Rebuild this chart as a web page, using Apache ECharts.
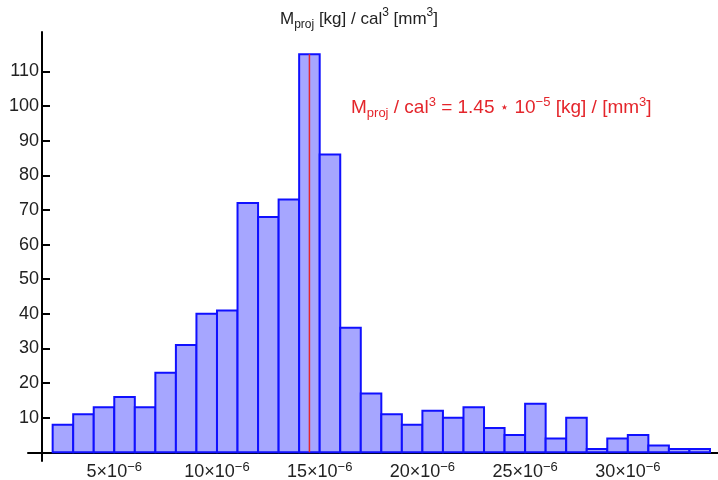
<!DOCTYPE html>
<html><head><meta charset="utf-8">
<script src="https://cdn.jsdelivr.net/npm/echarts@6/dist/echarts.min.js"></script>
<style>html,body{margin:0;padding:0;background:#fff}#c{width:718px;height:480px}</style>
</head><body><div id="c"></div>
<script>
// x values in units of 1e-6 (kg / mm^3)
const binStart = 2;
const binWidth = 1;
const counts = [8,11,13,16,13,23,31,40,41,72,68,73,115,86,36,17,11,8,12,10,13,7,5,14,4,10,1,4,5,2,1,1];
const xTickValues = [5,10,15,20,25,30];
const yTickValues = [10,20,30,40,50,60,70,80,90,100,110];
const meanValue = 14.5;   // 1.45 * 10^-5
const meanLineTop = 115;

const FONT = 'Liberation Sans, Arial, sans-serif';
const RED = '#e4252b';

const bins = counts.map((c, i) => [binStart + i * binWidth, binStart + (i + 1) * binWidth, c]);

const txtRich = (color, size, small) => ({
  m:   {fontFamily: FONT, fontSize: size, fontWeight: 'normal', color: color, lineHeight: 24},
  sub: {fontFamily: FONT, fontSize: small, fontWeight: 'normal', color: color, lineHeight: 14, verticalAlign: 'bottom'},
  sup: {fontFamily: FONT, fontSize: small, fontWeight: 'normal', color: color, lineHeight: 16, verticalAlign: 'top'},
  star: {fontFamily: 'DejaVu Sans', fontSize: 15, fontWeight: 'normal', color: color, lineHeight: 24}
});

const meanText = (meanValue / 10).toFixed(2);

const chart = echarts.init(document.getElementById('c'), null, {renderer: 'canvas'});
chart.setOption({
  animation: false,
  backgroundColor: '#fff',
  title: [{
    left: 'center', top: 2,
    text: '{m|M}{sub|proj}{m| [kg] / cal}{sup|3}{m| [mm}{sup|3}{m|]}',
    textStyle: {fontWeight: 'normal', rich: txtRich('#222', 17, 12)}
  }, {
    left: 346, top: 91,
    text: '{m|M}{sub|proj}{m| / cal}{sup|3}{m| = ' + meanText + ' }{star|\u22C6}{m| 10}{sup|\u22125}{m| [kg] / [mm}{sup|3}{m|]}',
    textStyle: {fontWeight: 'normal', rich: txtRich(RED, 19, 13)}
  }],
  grid: {left: 28, right: 0, top: 32, bottom: 19, containLabel: false, outerBoundsMode: 'none'},
  xAxis: {
    type: 'value', min: 0.8, max: 34.39,
    axisLine: {onZero: true, lineStyle: {color: '#000', width: 2}},
    axisTick: {inside: true, length: 8, customValues: xTickValues, lineStyle: {color: '#000', width: 2}},
    axisLabel: {
      customValues: xTickValues, margin: 0,
      formatter: v => '{n|' + v + '\u00D710}{sup|\u22126}',
      rich: {
        n: {fontFamily: FONT, fontSize: 18, color: '#222', lineHeight: 22},
        sup: {fontFamily: FONT, fontSize: 13, color: '#222', lineHeight: 14, verticalAlign: 'top'}
      }
    },
    splitLine: {show: false}
  },
  yAxis: {
    type: 'value', min: -2.5, max: 121.4, offset: -14,
    axisLine: {show: true, onZero: false, lineStyle: {color: '#000', width: 2}},
    axisTick: {show: true, inside: true, length: 8, customValues: yTickValues, lineStyle: {color: '#000', width: 2}},
    axisLabel: {customValues: yTickValues, margin: 3, fontFamily: FONT, fontSize: 18, color: '#222'},
    splitLine: {show: false}
  },
  series: [{
    type: 'custom',
    data: bins,
    encode: {x: [0, 1], y: 2},
    renderItem: (params, api) => {
      const p0 = api.coord([api.value(0), api.value(2)]);
      const p1 = api.coord([api.value(1), 0]);
      return {
        type: 'rect',
        shape: {x: p0[0], y: p0[1], width: p1[0] - p0[0], height: p1[1] - p0[1]},
        style: {fill: '#a6a6ff', stroke: '#1010ff', lineWidth: 2}
      };
    },
    z: 2
  }, {
    type: 'line',
    data: [[meanValue, 0], [meanValue, meanLineTop]],
    symbol: 'none',
    lineStyle: {color: RED, width: 1.5},
    z: 3
  }]
});
</script>
</body></html>
